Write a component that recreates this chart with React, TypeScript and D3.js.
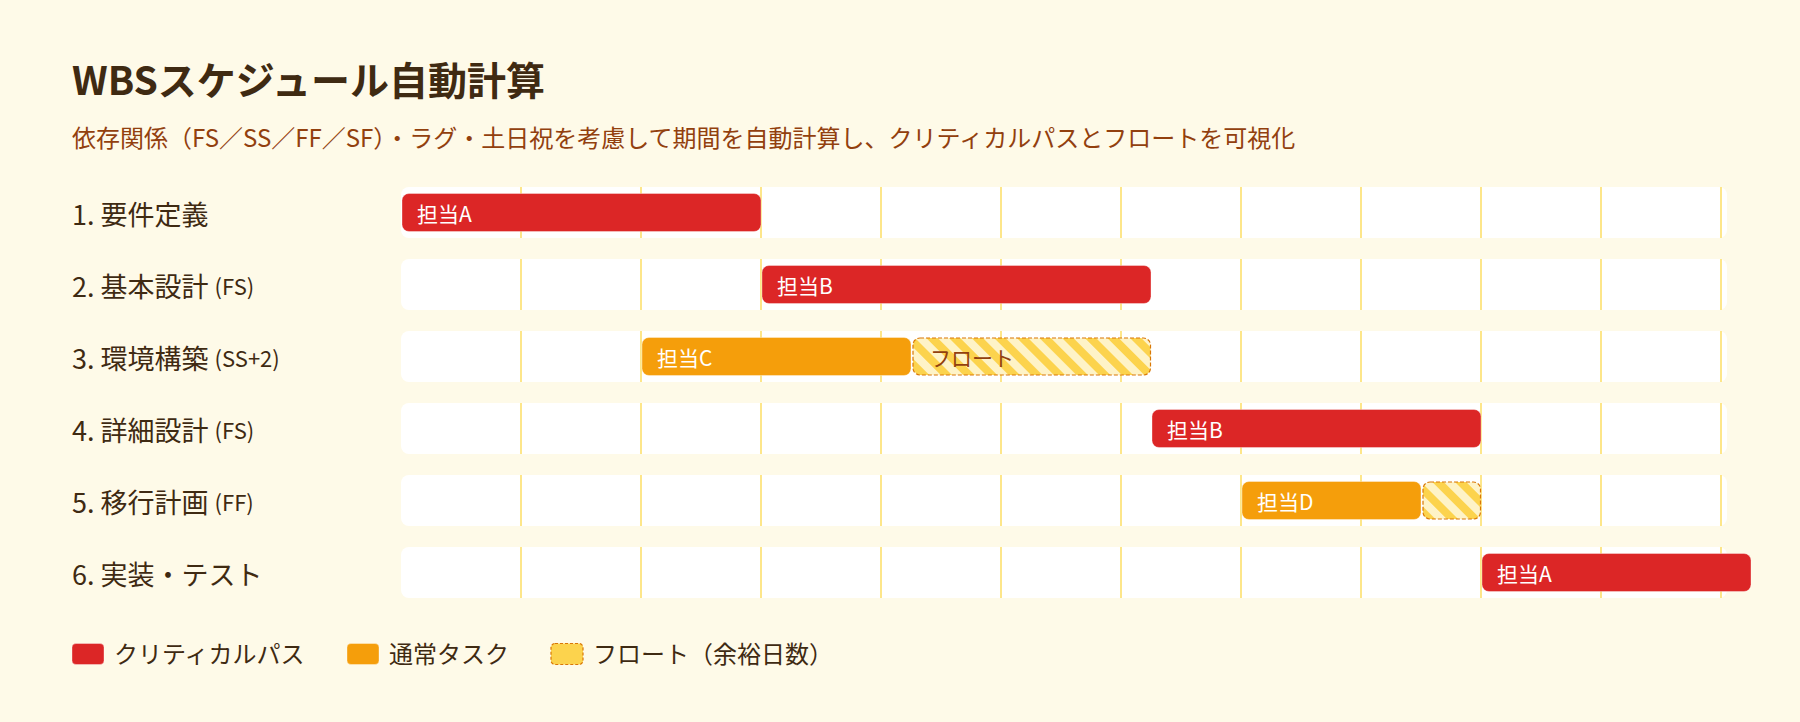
import React from "react";
import * as d3 from "d3";

const taskNames = ["1. 要件定義", "2. 基本設計", "3. 環境構築", "4. 詳細設計", "5. 移行計画", "6. 実装・テスト"];
const depLabels = ["", "(FS)", "(SS+2)", "(FS)", "(FF)", ""];
const assignees = ["担当A", "担当B", "担当C", "担当B", "担当D", "担当A"];
const taskStart = [0, 12, 8, 25, 28, 36];
const taskEnd = [12, 25, 17, 36, 34, 45];
const floatEnd = [12, 25, 25, 36, 36, 45];
const isCritical = [true, true, false, true, false, true];
const gridTicks = [4, 8, 12, 16, 20, 24, 28, 32, 36, 40, 44];
const legendLabels = ["クリティカルパス", "通常タスク", "フロート（余裕日数）"];

const W = 1800;
const H = 722;
const FONT = "'Noto Sans CJK JP', 'Noto Sans', sans-serif";
const BG = "#fefae8";
const RED = "#dc2626";
const ORANGE = "#f59e0b";
const YELLOW = "#fcd34d";
const LIGHT = "#fef3c7";
const DASH = "#d97706";
const DARK = "#3f2a12";
const SUB = "#92400e";
const GRID = "#fde68a";

export default function App() {
  const ids = taskNames.map((_, i) => String(i));
  const x = d3.scaleLinear().domain([0, 44]).range([401, 1721]);
  const y = d3
    .scaleBand<string>()
    .domain(ids)
    .range([187, 187 + 6 * 72 - 21])
    .paddingInner(21 / 72)
    .paddingOuter(0);
  const bw = y.bandwidth();
  const barInset = 6.5;
  const barH = bw - barInset * 2;
  const trackX0 = x(0);
  const trackX1 = x(44) + 6;

  const legendX = [72, 347, 551];

  return (
    <svg width={W} height={H} style={{ position: "absolute", left: 0, top: 0, background: BG }} fontFamily={FONT}>
      <defs>
        <pattern id="floatStripes" patternUnits="userSpaceOnUse" width={16} height={16} patternTransform="rotate(-45)">
          <rect x={0} y={0} width={16} height={16} fill={LIGHT} />
          <rect x={0} y={0} width={8} height={16} fill={YELLOW} />
        </pattern>
      </defs>
      <rect x={0} y={0} width={W} height={H} fill={BG} />
      <text x={72} y={95} fontSize={39} fontWeight={700} fill={DARK}>
        WBSスケジュール自動計算
      </text>
      <text x={72} y={147} fontSize={24} fill={SUB}>
        依存関係（FS／SS／FF／SF）・ラグ・土日祝を考慮して期間を自動計算し、クリティカルパスとフロートを可視化
      </text>

      {ids.map((id, i) => {
        const ty = y(id)!;
        const cy = ty + bw / 2;
        const s = taskStart[i];
        const e = taskEnd[i];
        const fe = floatEnd[i];
        const fill = isCritical[i] ? RED : ORANGE;
        return (
          <g key={id}>
            <text x={72} y={cy} dominantBaseline="central" fill={DARK}>
              <tspan fontSize={27}>{taskNames[i]}</tspan>
              {depLabels[i] ? (
                <tspan fontSize={22} dx={6}>
                  {depLabels[i]}
                </tspan>
              ) : null}
            </text>
            <rect x={trackX0} y={ty} width={trackX1 - trackX0} height={bw} rx={8} fill="#ffffff" />
            {gridTicks.map((t) => (
              <line key={t} x1={x(t)} x2={x(t)} y1={ty} y2={ty + bw} stroke={GRID} strokeWidth={2} />
            ))}
            <rect
              x={x(s) + 1}
              y={ty + barInset}
              width={x(e) - x(s) - 1}
              height={barH}
              rx={7}
              fill={fill}
              stroke="rgba(255,255,255,0.35)"
              strokeWidth={1}
            />
            <text x={x(s) + 16} y={cy} dominantBaseline="central" fontSize={21} fill="#ffffff">
              {assignees[i]}
            </text>
            {fe > e ? (
              <g>
                <rect
                  x={x(e) + 2}
                  y={ty + barInset + 0.5}
                  width={x(fe) - x(e) - 2.5}
                  height={barH - 1}
                  rx={7}
                  fill="url(#floatStripes)"
                  stroke={DASH}
                  strokeWidth={1.2}
                  strokeDasharray="4 2"
                />
                {x(fe) - x(e) > 120 ? (
                  <text x={x(e) + 19} y={cy} dominantBaseline="central" fontSize={21} fill={SUB}>
                    フロート
                  </text>
                ) : null}
              </g>
            ) : null}
          </g>
        );
      })}

      {legendLabels.map((lab, i) => {
        const lx = legendX[i];
        const ly = 643.5;
        return (
          <g key={lab}>
            <rect
              x={lx}
              y={ly}
              width={32}
              height={21}
              rx={4}
              fill={i === 0 ? RED : i === 1 ? ORANGE : YELLOW}
              stroke={i === 2 ? DASH : "rgba(255,255,255,0.35)"}
              strokeWidth={i === 2 ? 1.2 : 1}
              strokeDasharray={i === 2 ? "3 2" : undefined}
            />
            <text x={lx + 42} y={ly + 8.5} dominantBaseline="central" fontSize={24} fill={DARK}>
              {lab}
            </text>
          </g>
        );
      })}
    </svg>
  );
}
